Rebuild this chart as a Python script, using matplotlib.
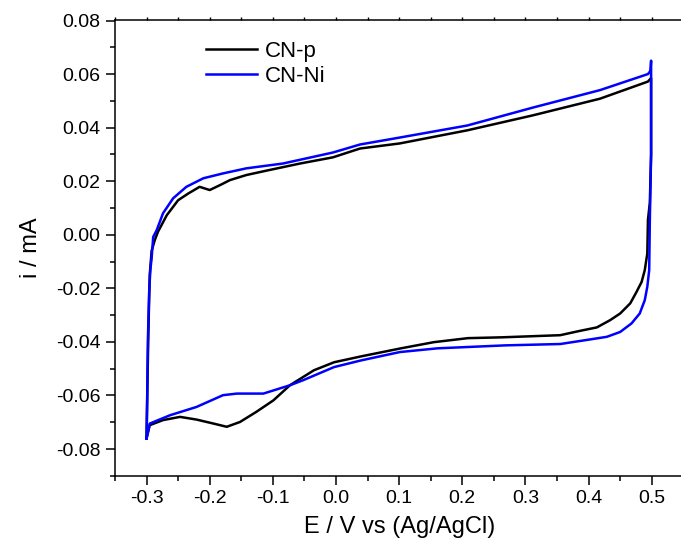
import matplotlib
matplotlib.use("Agg")
import matplotlib.pyplot as plt
from matplotlib.ticker import MultipleLocator

plt.rcParams['font.family'] = ['Liberation Sans', 'DejaVu Sans']

# CN-p: anodic sweep -0.3 -> 0.5, then cathodic sweep back
x_p = [-0.300, -0.299, -0.297, -0.295, -0.292, -0.287, -0.282, -0.268, -0.250,
       -0.234, -0.216, -0.200, -0.184, -0.168, -0.142, -0.109, -0.057, -0.005,
       0.038, 0.101, 0.208, 0.312, 0.418, 0.494, 0.499, 0.499, 0.497,
       0.494, 0.493, 0.489, 0.484, 0.476, 0.466, 0.450, 0.434, 0.413, 0.386,
       0.355, 0.262, 0.209, 0.155, 0.103, 0.040, -0.003, -0.035, -0.073,
       -0.099, -0.126, -0.152, -0.173, -0.194, -0.221, -0.247, -0.274, -0.295,
       -0.300]
y_p = [-0.075, -0.060, -0.035, -0.015, -0.006, -0.002, 0.0011, 0.0073, 0.0129,
       0.0154, 0.0179, 0.0167, 0.0185, 0.0204, 0.0223, 0.0240, 0.0266, 0.0289,
       0.0322, 0.0341, 0.0390, 0.0446, 0.0508, 0.0572, 0.0585, 0.030, 0.012,
       0.0055, -0.0070, -0.0132, -0.0176, -0.0213, -0.0256, -0.0294, -0.0319,
       -0.0346, -0.0359, -0.0375, -0.0383, -0.0386, -0.0401, -0.0424, -0.0454,
       -0.0476, -0.0506, -0.0562, -0.0618, -0.0661, -0.0699, -0.0717, -0.0705,
       -0.0690, -0.0680, -0.0692, -0.0711, -0.076]

# CN-Ni
x_ni = [-0.300, -0.299, -0.298, -0.296, -0.294, -0.292, -0.2895, -0.284, -0.274,
        -0.258, -0.237, -0.210, -0.179, -0.142, -0.084, -0.005, 0.038, 0.101,
        0.208, 0.312, 0.418, 0.494, 0.498, 0.499, 0.499, 0.497, 0.496, 0.493,
        0.489, 0.481, 0.468, 0.450, 0.429, 0.402, 0.355, 0.268, 0.161, 0.101,
        0.040, -0.003, -0.052, -0.073, -0.115, -0.157, -0.179, -0.221, -0.263,
        -0.295, -0.300]
y_ni = [-0.076, -0.062, -0.040, -0.022, -0.013, -0.0088, -0.0008, 0.0017, 0.0080,
        0.0136, 0.0179, 0.0211, 0.0229, 0.0248, 0.0266, 0.0307, 0.0337, 0.0363,
        0.0408, 0.0475, 0.0540, 0.0600, 0.0612, 0.065, 0.030, 0.0055, -0.0132,
        -0.0194, -0.0244, -0.0294, -0.0331, -0.0363, -0.0381, -0.0391, -0.0408,
        -0.0413, -0.0424, -0.0438, -0.0469, -0.0494, -0.0543, -0.0562, -0.0593,
        -0.0593, -0.0599, -0.0643, -0.0674, -0.0705, -0.0761]

fig = plt.figure(figsize=(6.81, 5.46), dpi=100)
ax = fig.add_axes([115 / 681, (546 - 475.8) / 546, 568.3 / 681, 455.3 / 546])

ax.plot(x_p, y_p, color='black', lw=1.8, label='CN-p')
ax.plot(x_ni, y_ni, color='#0000ff', lw=1.8, label='CN-Ni')

ax.set_xlim(-0.35, 0.55)
ax.set_ylim(-0.09, 0.08)
ax.xaxis.set_major_locator(MultipleLocator(0.1))
ax.xaxis.set_minor_locator(MultipleLocator(0.05))
ax.yaxis.set_major_locator(MultipleLocator(0.02))
ax.yaxis.set_minor_locator(MultipleLocator(0.01))
ax.xaxis.set_major_formatter(lambda v, p: f"{v:.1f}".replace("-0.0", "0.0"))
ax.yaxis.set_major_formatter(lambda v, p: f"{v:.2f}".replace("-0.00", "0.00"))

ax.tick_params(which='major', direction='out', length=6.5, width=1.1, labelsize=14, pad=4)
ax.tick_params(which='minor', direction='out', length=3.5, width=1.1)
for s in ax.spines.values():
    s.set_linewidth(1.1)
ax.spines['top'].set_visible(False)

# short top ticks
top = ax.secondary_xaxis('top')
top.xaxis.set_major_locator(MultipleLocator(0.05))
top.tick_params(direction='out', length=2, width=1.0, labeltop=False)
top.spines['top'].set_linewidth(1.1)

ax.set_xlabel('E / V vs (Ag/AgCl)', fontsize=17, labelpad=6)
ax.set_ylabel('i / mA', fontsize=17, labelpad=10)

ax.legend(loc='upper left', bbox_to_anchor=(0.125, 1.0), frameon=False, fontsize=16,
          handlelength=2.3, handletextpad=0.35, labelspacing=0.2)

fig.savefig('out.png', dpi=100)
